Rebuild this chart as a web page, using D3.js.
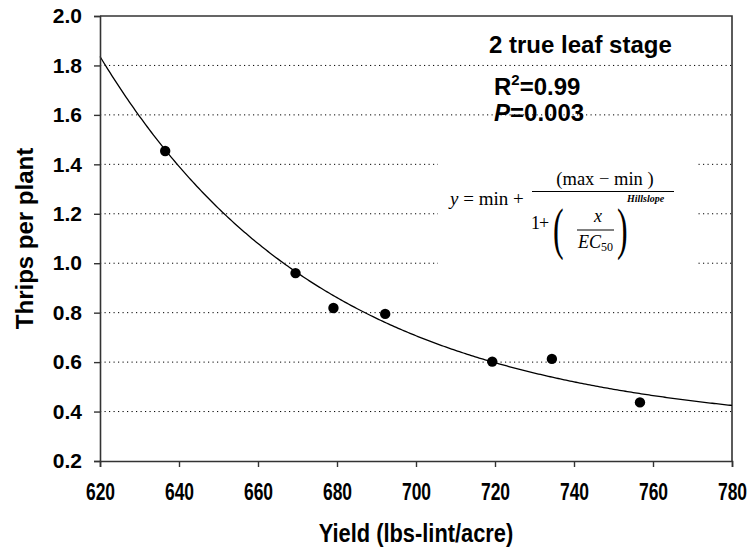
<!DOCTYPE html>
<html lang="en">
<head>
<meta charset="UTF-8">
<title>Thrips per plant vs yield</title>
<script src="https://cdn.jsdelivr.net/npm/d3@7"></script>
<style>
    body { margin: 0; background: #fff; }
    svg { display: block; font-family: "Liberation Sans", Arial, sans-serif; }
    .tick text { font-weight: bold; fill: #000; }
    .grid line { stroke: #000; stroke-width: 1; stroke-dasharray: 1.2,3.3; }
    .eq text { font-family: "Liberation Serif", "Times New Roman", serif; fill: #000; }
</style>
</head>
<body>
<svg id="chart" width="754" height="550"></svg>
<script>
// data
const yieldLint = [636.5, 669.5, 679.1, 692.2, 719.3, 734.4, 756.7];
const thripsPerPlant = [1.454, 0.960, 0.819, 0.795, 0.602, 0.613, 0.437];
const xTicks = [620, 640, 660, 680, 700, 720, 740, 760, 780];
const yTicks = [0.2, 0.4, 0.6, 0.8, 1.0, 1.2, 1.4, 1.6, 1.8, 2.0];
const gridValues = [0.4, 0.6, 0.8, 1.0, 1.2, 1.4, 1.6, 1.8];
// fitted four parameter logistic (estimated)
const fitMin = 0.31, fitMax = 20, fitEC50 = 500.8, fitHill = 11.6;

const svg = d3.select('#chart');
const plotL = 100, plotR = 732, plotT = 16, plotB = 461;

let x = d3.scaleLinear().domain([620, 780]).range([plotL, plotR]);
let y = d3.scaleLinear().domain([0.2, 2.0]).range([plotB, plotT]);

// dotted gridlines
svg.append('g').attr('class', 'grid')
    .selectAll('line').data(gridValues).join('line')
    .attr('x1', plotL).attr('x2', plotR)
    .attr('y1', d => y(d)).attr('y2', d => y(d));

// frame top / right
svg.append('path')
    .attr('d', `M${plotL},${plotT}H${plotR}V${plotB}`)
    .attr('fill', 'none').attr('stroke', '#333').attr('stroke-width', 1.6);

// fitted curve
const curveX = d3.range(620, 780.5, 0.5);
const logistic = v => fitMin + (fitMax - fitMin) / (1 + Math.pow(v / fitEC50, fitHill));
svg.append('path')
    .datum(curveX)
    .attr('fill', 'none').attr('stroke', '#000').attr('stroke-width', 1.3)
    .attr('d', d3.line().x(d => x(d)).y(d => y(logistic(d))));

// points
svg.append('g').selectAll('circle').data(yieldLint).join('circle')
    .attr('cx', d => x(d))
    .attr('cy', (d, i) => y(thripsPerPlant[i]))
    .attr('r', 5.2).attr('fill', '#000');

// axes
let yAxis = svg.append('g').attr('transform', `translate(${plotL},0)`)
    .call(d3.axisLeft(y).tickValues(yTicks).tickFormat(d3.format('.1f')).tickSize(6).tickPadding(12));
yAxis.selectAll('text').attr('font-size', 21).attr('font-family', '"Liberation Sans", Arial, sans-serif');

let xAxis = svg.append('g').attr('transform', `translate(0,${plotB})`)
    .call(d3.axisBottom(x).tickValues(xTicks).tickFormat(d3.format('d')).tickSize(6).tickPadding(0));
xAxis.selectAll('text')
    .attr('font-size', 23).attr('font-family', '"Liberation Sans", Arial, sans-serif')
    .attr('dy', null).attr('y', 0)
    .attr('transform', 'translate(0,39) scale(0.76,1)');

svg.selectAll('.domain').attr('stroke', '#333').attr('stroke-width', 1.6);
svg.selectAll('.tick line').attr('stroke', '#333').attr('stroke-width', 1.4);

// axis titles
svg.append('text')
    .attr('transform', `translate(${(plotL + plotR) / 2},542) scale(0.84,1)`)
    .attr('text-anchor', 'middle').attr('font-weight', 'bold').attr('font-size', 26)
    .text('Yield (lbs-lint/acre)');
svg.append('text')
    .attr('transform', `translate(33,${(plotT + plotB) / 2}) rotate(-90)`)
    .attr('text-anchor', 'middle').attr('font-weight', 'bold').attr('font-size', 24)
    .text('Thrips per plant');

// annotations
svg.append('text').attr('x', 489).attr('y', 53)
    .attr('font-weight', 'bold').attr('font-size', 24)
    .text('2 true leaf stage');
let r2 = svg.append('text').attr('x', 494).attr('y', 95)
    .attr('font-weight', 'bold').attr('font-size', 24);
r2.append('tspan').text('R');
r2.append('tspan').attr('font-size', 15).attr('dy', -10).text('2');
r2.append('tspan').attr('dy', 10).text('=0.99');

// equation panel
const eq = svg.append('g').attr('class', 'eq');
eq.append('rect').attr('x', 438).attr('y', 140).attr('width', 259).attr('height', 130).attr('fill', '#fff');
eq.append('text').attr('x', 450).attr('y', 205).attr('font-size', 19)
    .html('<tspan font-style="italic">y</tspan> = min +');
eq.append('text').attr('x', 605).attr('y', 185).attr('font-size', 18.5).attr('text-anchor', 'middle')
    .text('(max \u2212 min )');
eq.append('line').attr('x1', 532).attr('x2', 674).attr('y1', 191.5).attr('y2', 191.5)
    .attr('stroke', '#000').attr('stroke-width', 1);
eq.append('text').attr('x', 531).attr('y', 229).attr('font-size', 18).attr('letter-spacing', -1).text('1+');
eq.append('text').attr('x', 553).attr('y', 248).attr('font-size', 58)
    .attr('transform', 'translate(553,248) scale(0.55,1) translate(-553,-248)').text('(');
eq.append('text').attr('x', 617).attr('y', 248).attr('font-size', 58)
    .attr('transform', 'translate(617,248) scale(0.55,1) translate(-617,-248)').text(')');
eq.append('text').attr('x', 598).attr('y', 222).attr('font-size', 18).attr('font-style', 'italic')
    .attr('text-anchor', 'middle').text('x');
eq.append('line').attr('x1', 577).attr('x2', 614).attr('y1', 230).attr('y2', 230)
    .attr('stroke', '#000').attr('stroke-width', 1);
let ec = eq.append('text').attr('x', 578).attr('y', 248).attr('font-size', 18).attr('font-style', 'italic');
ec.append('tspan').text('EC');
ec.append('tspan').attr('font-size', 12).attr('font-style', 'normal').attr('dy', 3).text('50');
eq.append('text').attr('x', 627).attr('y', 202).attr('font-size', 10)
    .attr('font-style', 'italic').attr('font-weight', 'bold').text('Hillslope');

// P value drawn under the dotted line at 1.6
let pv = svg.insert('text', '.grid').attr('x', 494).attr('y', 121)
    .attr('font-weight', 'bold').attr('font-size', 24);
pv.append('tspan').attr('font-style', 'italic').text('P');
pv.append('tspan').text('=0.003');
</script>
</body>
</html>
